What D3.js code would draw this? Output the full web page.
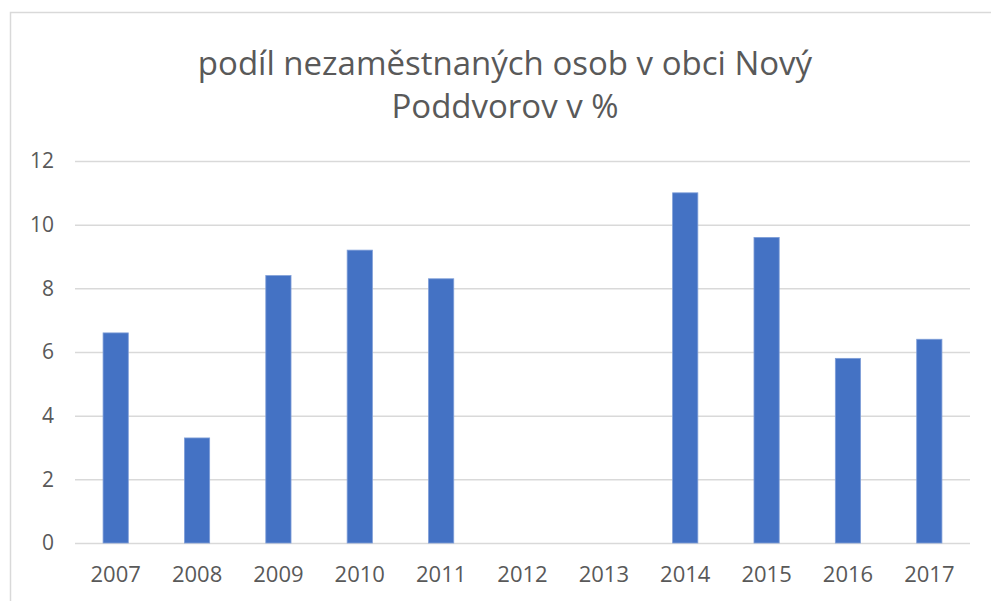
<!DOCTYPE html>
<html>
<head>
<meta charset="utf-8">
<script src="https://cdn.jsdelivr.net/npm/d3@7.9.0/dist/d3.min.js"></script>
<style>
  body { margin: 0; background: #fff; }
  svg { display: block; font-family: "Open Sans", sans-serif; }
</style>
</head>
<body>
<div id="chart"></div>
<script>
// data (2012 and 2013 have no bar)
const years = ["2007", "2008", "2009", "2010", "2011", "2012", "2013", "2014", "2015", "2016", "2017"];
const values = [6.6, 3.3, 8.4, 9.2, 8.3, null, null, 11.0, 9.6, 5.8, 6.4];
const yTicks = [0, 2, 4, 6, 8, 10, 12];
const titleLines = ["podíl nezaměstnaných osob v obci Nový", "Poddvorov v %"];

const W = 991, H = 601;
const margin = { top: 161, right: 21, bottom: 58, left: 75 };
const width = W - margin.left - margin.right;
const height = H - margin.top - margin.bottom;

const svg = d3.select("#chart")
  .append("svg")
  .attr("width", W)
  .attr("height", H);

// chart area frame (runs off the right and bottom edge)
svg.append("rect")
  .attr("x", 10.5)
  .attr("y", 12.5)
  .attr("width", W + 20)
  .attr("height", H + 20)
  .attr("fill", "none")
  .attr("stroke", "#d9d9d9")
  .attr("stroke-width", 1.5);

// title
svg.append("g")
  .selectAll("text")
  .data(titleLines)
  .enter()
  .append("text")
  .attr("x", 505)
  .attr("y", (d, i) => 75 + i * 43)
  .attr("text-anchor", "middle")
  .attr("fill", "#595959")
  .style("font-size", "33px")
  .text((d) => d);

const g = svg.append("g")
  .attr("transform", `translate(${margin.left},${margin.top})`);

const x = d3.scaleBand().domain(years).range([0, width]).padding(0);
const y = d3.scaleLinear().domain([0, 12]).range([height, 0]);

// gridlines
g.append("g")
  .call(d3.axisLeft(y).tickValues(yTicks).tickSize(-width).tickFormat(""))
  .call((s) => s.select(".domain").remove())
  .call((s) => s.selectAll("line").attr("stroke", "#d9d9d9").attr("stroke-width", 1.5));

// y labels
g.append("g")
  .call(d3.axisLeft(y).tickValues(yTicks).tickSize(0).tickPadding(21))
  .call((s) => s.select(".domain").remove())
  .call((s) => s.selectAll("text").attr("fill", "#595959").style("font-size", "21px").style("font-family", "Open Sans, sans-serif"));

// x labels
g.append("g")
  .attr("transform", `translate(0,${height})`)
  .call(d3.axisBottom(x).tickSize(0).tickPadding(23))
  .call((s) => s.select(".domain").remove())
  .call((s) => s.selectAll("text").attr("fill", "#595959").style("font-size", "22px").style("font-family", "Open Sans, sans-serif"));

// bars
const barW = x.bandwidth() * 0.31;
g.append("g")
  .selectAll("rect")
  .data(years.map((yr, i) => ({ year: yr, value: values[i] })).filter((d) => d.value != null))
  .enter()
  .append("rect")
  .attr("x", (d) => x(d.year) + (x.bandwidth() - barW) / 2)
  .attr("y", (d) => y(d.value))
  .attr("width", barW)
  .attr("height", (d) => height - y(d.value))
  .attr("fill", "#4472c4")
  .attr("stroke", "#7f9ed8")
  .attr("stroke-width", 0.8);
</script>
</body>
</html>
